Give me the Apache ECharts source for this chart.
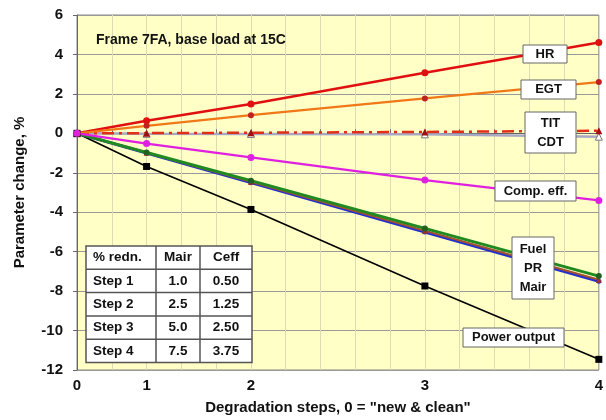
<!DOCTYPE html>
<html><head><meta charset="utf-8">
<script src="https://cdn.jsdelivr.net/npm/echarts@6/dist/echarts.min.js"></script>
<style>html,body{margin:0;padding:0;background:#fff}#c{width:606px;height:420px}</style>
</head><body><div id="c"></div>
<script>
// x position of each degradation step = Mair reduction (%)
const stepX = [0, 1.0, 2.5, 5.0, 7.5];
const stepLabels = ['0', '1', '2', '3', '4'];
const yTicks = [-12, -10, -8, -6, -4, -2, 0, 2, 4, 6];
const hr = [0, 0.64, 1.49, 3.07, 4.61];
const egt = [0, 0.38, 0.92, 1.77, 2.6];
const tit = [0, 0.01, 0.03, 0.07, 0.13];
const cdt = [0, -0.02, -0.03, -0.05, -0.17];
const compEff = [0, -0.52, -1.22, -2.37, -3.4];
const fuel = [0, -0.97, -2.4, -4.82, -7.24];
const pr = [0, -0.99, -2.46, -4.94, -7.42];
const mair = [0, -1.0, -2.5, -5.0, -7.5];
const power = [0, -1.68, -3.86, -7.74, -11.46];
const tableHead = ['% redn.', 'Mair', 'Ceff'];
const tableSteps = ['Step 1', 'Step 2', 'Step 3', 'Step 4'];
const tableMair = ['1.0', '2.5', '5.0', '7.5'];
const tableCeff = ['0.50', '1.25', '2.50', '3.75'];
const titleText = 'Frame 7FA, base load at 15C';

const FONT = "'Liberation Sans', Arial, sans-serif";
const pts = arr => stepX.map((x, i) => [x, arr[i]]);

function mkSeries(name, data, color, width, sym, symSize, symColor, extra) {
  return Object.assign({
    name, type: 'line', data: pts(data),
    symbol: sym, symbolSize: symSize,
    lineStyle: { color, width },
    itemStyle: { color: symColor || color },
    animation: false
  }, extra || {});
}

const series = [
  mkSeries('CDT', cdt, '#A8A8C4', 2.5, 'triangle', 7, '#ffffff',
    { itemStyle: { color: '#ffffff', borderColor: '#777', borderWidth: 1 } }),
  mkSeries('TIT', tit, '#E03018', 2.5, 'triangle', 7, '#A01010',
    { lineStyle: { color: '#E03018', width: 2.5, type: [12, 5, 3, 5] } }),
  mkSeries('HR', hr, '#E01010', 2.5, 'circle', 7, '#E01010'),
  mkSeries('EGT', egt, '#F07818', 2.2, 'circle', 6, '#C02020'),
  mkSeries('Power output', power, '#000000', 1.6, 'rect', 7, '#000000'),
  mkSeries('Mair', mair, '#2030D0', 3, 'circle', 5, '#2030D0'),
  mkSeries('PR', pr, '#A05030', 2, 'triangle', 6, '#A03020'),
  mkSeries('Fuel', fuel, '#208A20', 3, 'circle', 6, '#206020'),
  mkSeries('Comp. eff.', compEff, '#E020E0', 2.2, 'circle', 7, '#E020E0')
];

const Z = 100;
function box(x, y, w, h, text, lh) {
  return {
    type: 'group', x, y,
    children: [
      { type: 'rect', z: Z, shape: { x: 0, y: 0, width: w, height: h },
        style: { fill: '#ffffff', stroke: '#666', lineWidth: 1 } },
      { type: 'text', z: Z + 1, x: w / 2, y: h / 2,
        style: { text, font: `bold 13px ${FONT}`, fill: '#111', align: 'center',
                 verticalAlign: 'middle', lineHeight: lh || 16 } }
    ]
  };
}

// table
const tX = [86, 156, 200, 252];
const rowH = 23.3, tTop = 246;
const tableChildren = [];
const rows = [tableHead].concat(tableSteps.map((s, i) => [s, tableMair[i], tableCeff[i]]));
tableChildren.push({ type: 'rect', z: Z, shape: { x: tX[0], y: tTop, width: tX[3] - tX[0], height: rowH * 5 },
  style: { fill: '#ffffff', stroke: '#555', lineWidth: 1.5 } });
for (let r = 1; r < 5; r++) {
  tableChildren.push({ type: 'line', z: Z + 1, shape: { x1: tX[0], y1: tTop + r * rowH, x2: tX[3], y2: tTop + r * rowH },
    style: { stroke: '#555', lineWidth: 1.5 } });
}
for (let c = 1; c < 3; c++) {
  tableChildren.push({ type: 'line', z: Z + 1, shape: { x1: tX[c], y1: tTop, x2: tX[c], y2: tTop + rowH * 5 },
    style: { stroke: '#555', lineWidth: 1.5 } });
}
rows.forEach((row, r) => {
  row.forEach((t, c) => {
    const cy = tTop + r * rowH + rowH / 2;
    if (c === 0) {
      tableChildren.push({ type: 'text', z: Z + 2, x: tX[0] + 7, y: cy,
        style: { text: t, font: `bold 13.5px ${FONT}`, fill: '#111', align: 'left', verticalAlign: 'middle' } });
    } else {
      tableChildren.push({ type: 'text', z: Z + 2, x: (tX[c] + tX[c + 1]) / 2, y: cy,
        style: { text: t, font: `bold 13.5px ${FONT}`, fill: '#111', align: 'center', verticalAlign: 'middle' } });
    }
  });
});

const chart = echarts.init(document.getElementById('c'), null, { renderer: 'canvas' });
chart.setOption({
  animation: false,
  backgroundColor: '#ffffff',
  grid: { left: 77, right: 4, top: 15, bottom: 49.5, show: true,
          backgroundColor: '#FFFFC6', borderColor: '#888', borderWidth: 1 },
  xAxis: {
    type: 'value', min: 0, max: 7.5, interval: 0.5,
    name: 'Degradation steps, 0 = "new & clean"', nameLocation: 'middle', nameGap: 30,
    nameTextStyle: { fontFamily: FONT, fontWeight: 'bold', fontSize: 15, color: '#111' },
    axisLine: { show: true, lineStyle: { color: '#666', width: 1 } },
    axisTick: { show: true, inside: true, length: 4, lineStyle: { color: '#666' } },
    splitLine: { show: true, lineStyle: { color: '#DCDCB4', width: 1 } },
    axisLabel: {
      fontFamily: FONT, fontWeight: 'bold', fontSize: 15, color: '#111', margin: 8,
      showMinLabel: true, showMaxLabel: true,
      formatter: v => { const i = stepX.indexOf(v); return i >= 0 ? stepLabels[i] : ''; }
    }
  },
  yAxis: {
    type: 'value', min: yTicks[0], max: yTicks[yTicks.length - 1], interval: 2,
    name: 'Parameter change, %', nameLocation: 'middle', nameGap: 50,
    nameTextStyle: { fontFamily: FONT, fontWeight: 'bold', fontSize: 15, color: '#111' },
    axisLine: { show: true, lineStyle: { color: '#666', width: 1 } },
    axisTick: { show: true, inside: false, length: 4, lineStyle: { color: '#666' } },
    splitLine: { show: true, lineStyle: { color: '#999', width: 1 } },
    axisLabel: { fontFamily: FONT, fontWeight: 'bold', fontSize: 15, color: '#111', margin: 14 }
  },
  series,
  graphic: [
    { type: 'text', x: 96, y: 40, z: Z,
      style: { text: titleText, font: `bold 14px ${FONT}`, fill: '#111', verticalAlign: 'middle' } },
    box(523, 45, 44, 18, 'HR'),
    box(521, 80, 55, 19, 'EGT'),
    box(525, 112, 51, 41, 'TIT\nCDT', 19),
    box(495, 181, 81, 20, 'Comp. eff.'),
    box(512, 237, 42, 62, 'Fuel\nPR\nMair', 19),
    box(463, 328, 101, 19, 'Power output'),
    { type: 'group', children: tableChildren }
  ]
});
</script></body></html>
